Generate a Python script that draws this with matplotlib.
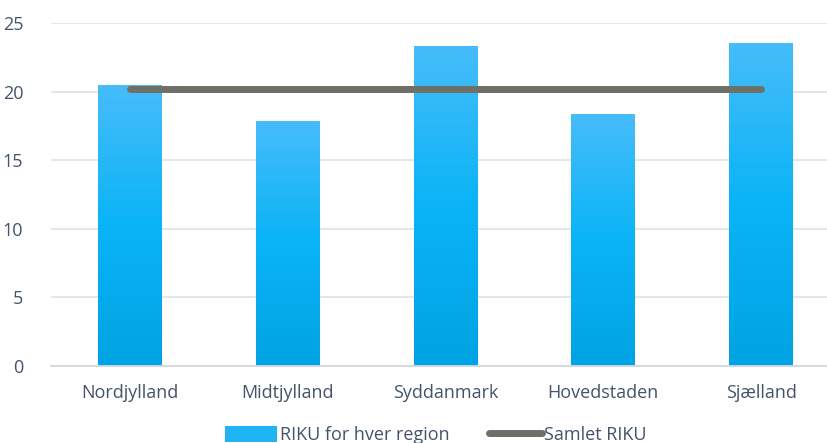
import numpy as np
import matplotlib
matplotlib.use('Agg')
import matplotlib.pyplot as plt
from matplotlib.colors import LinearSegmentedColormap
from matplotlib.patches import Patch
from matplotlib.lines import Line2D

regions = ['Nordjylland', 'Midtjylland', 'Syddanmark', 'Hovedstaden', 'Sjælland']
riku_region = [20.48, 17.86, 23.33, 18.37, 23.55]
riku_samlet = [20.17, 20.17, 20.17, 20.17, 20.17]
yticks = [0, 5, 10, 15, 20, 25]

plt.rcParams['font.family'] = ['Open Sans', 'DejaVu Sans']
text_col = '#44546A'

fig = plt.figure(figsize=(8.27, 4.43), dpi=100)
ax = fig.add_axes([51 / 827, 1 - 366 / 443, 789 / 827, 343 / 443])

x = np.arange(len(regions))
bw = 0.405
# bars with vertical gradient (light on top, deeper blue at base)
grad = LinearSegmentedColormap.from_list('g', ['#00A3E3', '#0AB4F6', '#47BCFA'])
img = np.linspace(0, 1, 256).reshape(-1, 1)
bars = ax.bar(x, riku_region, width=bw, color='none', edgecolor='none', zorder=2)
for b in bars:
    x0, w, h = b.get_x(), b.get_width(), b.get_height()
    im = ax.imshow(img, cmap=grad, origin='lower', aspect='auto',
                   extent=[x0, x0 + w, 0, h], zorder=2)
    im.set_clip_path(b)

ax.plot(x, riku_samlet, color='#6E6F66', lw=5, solid_capstyle='round', zorder=3)

ax.set_xlim(-0.5, len(regions) - 0.5)
ax.set_ylim(0, 25)
ax.set_yticks(yticks)
ax.set_xticks(x)
ax.set_xticklabels(regions)
ax.grid(axis='y', color='#E1E5EA', lw=1.3, zorder=0)
for s in ['top', 'right', 'left']:
    ax.spines[s].set_visible(False)
ax.spines['bottom'].set_color('#D3D8DE')
ax.spines['bottom'].set_linewidth(1.3)
ax.tick_params(length=0, colors=text_col, labelsize=13)
ax.tick_params(axis='y', pad=20)
ax.tick_params(axis='x', pad=13)

handles = [Patch(facecolor='#1FB5F5', edgecolor='none'),
           Line2D([0], [0], color='#6E6F66', lw=5, solid_capstyle='round')]
fig.legend(handles, ['RIKU for hver region', 'Samlet RIKU'], loc='center',
           bbox_to_anchor=(436 / 827, 8 / 443), ncol=2, frameon=False,
           fontsize=13, labelcolor=text_col, handlelength=2.9, handletextpad=0.15,
           columnspacing=2.2, handleheight=1.0)

fig.savefig('out.png', dpi=100)
